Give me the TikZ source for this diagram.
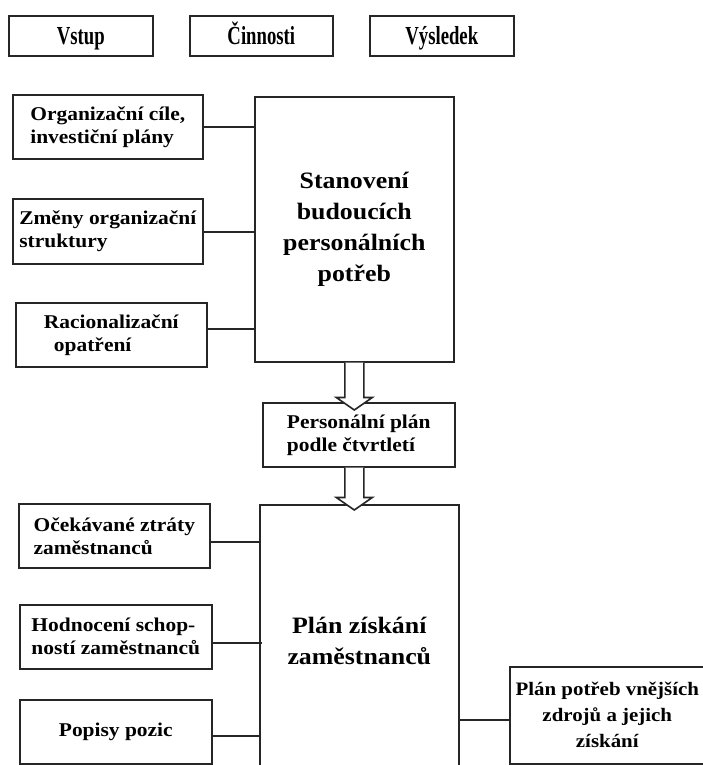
\documentclass[tikz,border=0pt]{standalone}
\usepackage{fontspec}
\setmainfont{Liberation Serif}
\newfontfamily\bodyfont[FakeStretch=1.1]{Liberation Serif}
\usetikzlibrary{calc}

\tikzset{
  frame/.style={draw=black!85, line width=1.6pt, fill=white, inner sep=0pt, anchor=north west},
  headbox/.style={frame, text height=17pt, text depth=0pt, font=\bfseries\fontsize{26}{30}\selectfont},
  inbox/.style={frame, align=left, font=\bodyfont\bfseries\fontsize{19.5}{23}\selectfont},
  bigbox/.style={frame, align=center, font=\bodyfont\bfseries\fontsize{23.5}{31}\selectfont},
  outbox/.style={frame, align=center, font=\bodyfont\bfseries\fontsize{19}{26}\selectfont},
  link/.style={draw=black!85, line width=1.6pt},
  hollow/.style={draw=black!85, line width=1.6pt, fill=white, line join=miter},
}

% narrow heading lettering
\newcommand\narrow[1]{\scalebox{0.72}[1]{#1}}

% box from upper-left (#3,#4) to lower-right (#5,#6)
\newcommand\placebox[7]{%
  \node[#1, minimum width=#5-#3, minimum height=#6-#4] (#2) at (#3,#4) {#7};}

% hollow block arrow: shaft from #1 down to the tip #2
\newcommand\blockarrow[2]{%
  \path[hollow] let \p1=(#1), \p2=(#2) in
    (\x1-9.5pt,\y1) -- (\x1-9.5pt,\y2+12.5pt) -- (\x1-18pt,\y2+12.5pt)
    -- (\x1,\y2) -- (\x1+18pt,\y2+12.5pt) -- (\x1+9.5pt,\y2+12.5pt)
    -- (\x1+9.5pt,\y1);}

\begin{document}
\begin{tikzpicture}[x=1pt, y=-1pt]
  \clip (0,0) rectangle (703,765);
  \fill[white] (0,0) rectangle (703,765);

  % column headings
  \placebox{headbox}{h1}{8}{15}{152}{55}{\narrow{Vstup}}
  \placebox{headbox}{h2}{189}{15}{332}{55}{\narrow{Činnosti}}
  \placebox{headbox}{h3}{369}{15}{513}{55}{\narrow{Výsledek}}

  % first stage
  \placebox{inbox}{i1}{12}{94}{202}{158}{Organizační cíle,\\investiční plány}
  \placebox{inbox}{i2}{12}{198}{202}{263}{Změny organizační\\struktury}
  \placebox{inbox}{i3}{15}{302}{206}{366}{Racionalizační\\\hspace*{10pt}opatření}
  \placebox{bigbox}{s1}{254}{96}{453}{361}{Stanovení\\budoucích\\personálních\\potřeb}

  \placebox{inbox}{pp}{262}{402}{454}{466}{Personální plán\\podle čtvrtletí}

  % second stage
  \placebox{inbox}{i4}{18}{503}{209}{567}{Očekávané ztráty\\zaměstnanců}
  \placebox{inbox}{i5}{19}{604}{211}{668}{Hodnocení schop-\\ností zaměstnanců}
  \placebox{inbox}{i6}{19}{699}{211}{763}{Popisy pozic}
  \placebox{bigbox}{s2}{259}{504}{458}{776}{Plán získání\\zaměstnanců}
  \placebox{outbox}{o1}{509}{666}{704}{763}{Plán potřeb vnějších\\zdrojů a jejich\\získání}

  % inputs feeding the activities
  \draw[link] (i1.east) -- (i1.east -| s1.west);
  \draw[link] ([yshift=-0.5pt]i2.east) -- ([yshift=-0.5pt]i2.east -| s1.west);
  \draw[link] ([yshift=6pt]i3.east) -- ([yshift=6pt]i3.east -| s1.west);
  \draw[link] ([yshift=-6pt]i4.east) -- ([yshift=-6pt]i4.east -| s2.west);
  \draw[link] ([yshift=-6pt]i5.east) -- ([yshift=-6pt,xshift=3pt]i5.east -| s2.west);
  \draw[link] ([yshift=-4pt]i6.east) -- ([yshift=-4pt]i6.east -| s2.west);

  % result
  \draw[link] ([yshift=-4.5pt]o1.west -| s2.east) -- ([yshift=-4.5pt]o1.west);

  % flow between the activities
  \coordinate (t1) at ($(s1.south |- pp.north)+(0,8)$);
  \coordinate (a2) at (s1.south |- pp.south);
  \coordinate (t2) at ($(s1.south |- s2.north)+(0,6)$);
  \blockarrow{s1.south}{t1}
  \blockarrow{a2}{t2}
\end{tikzpicture}
\end{document}
